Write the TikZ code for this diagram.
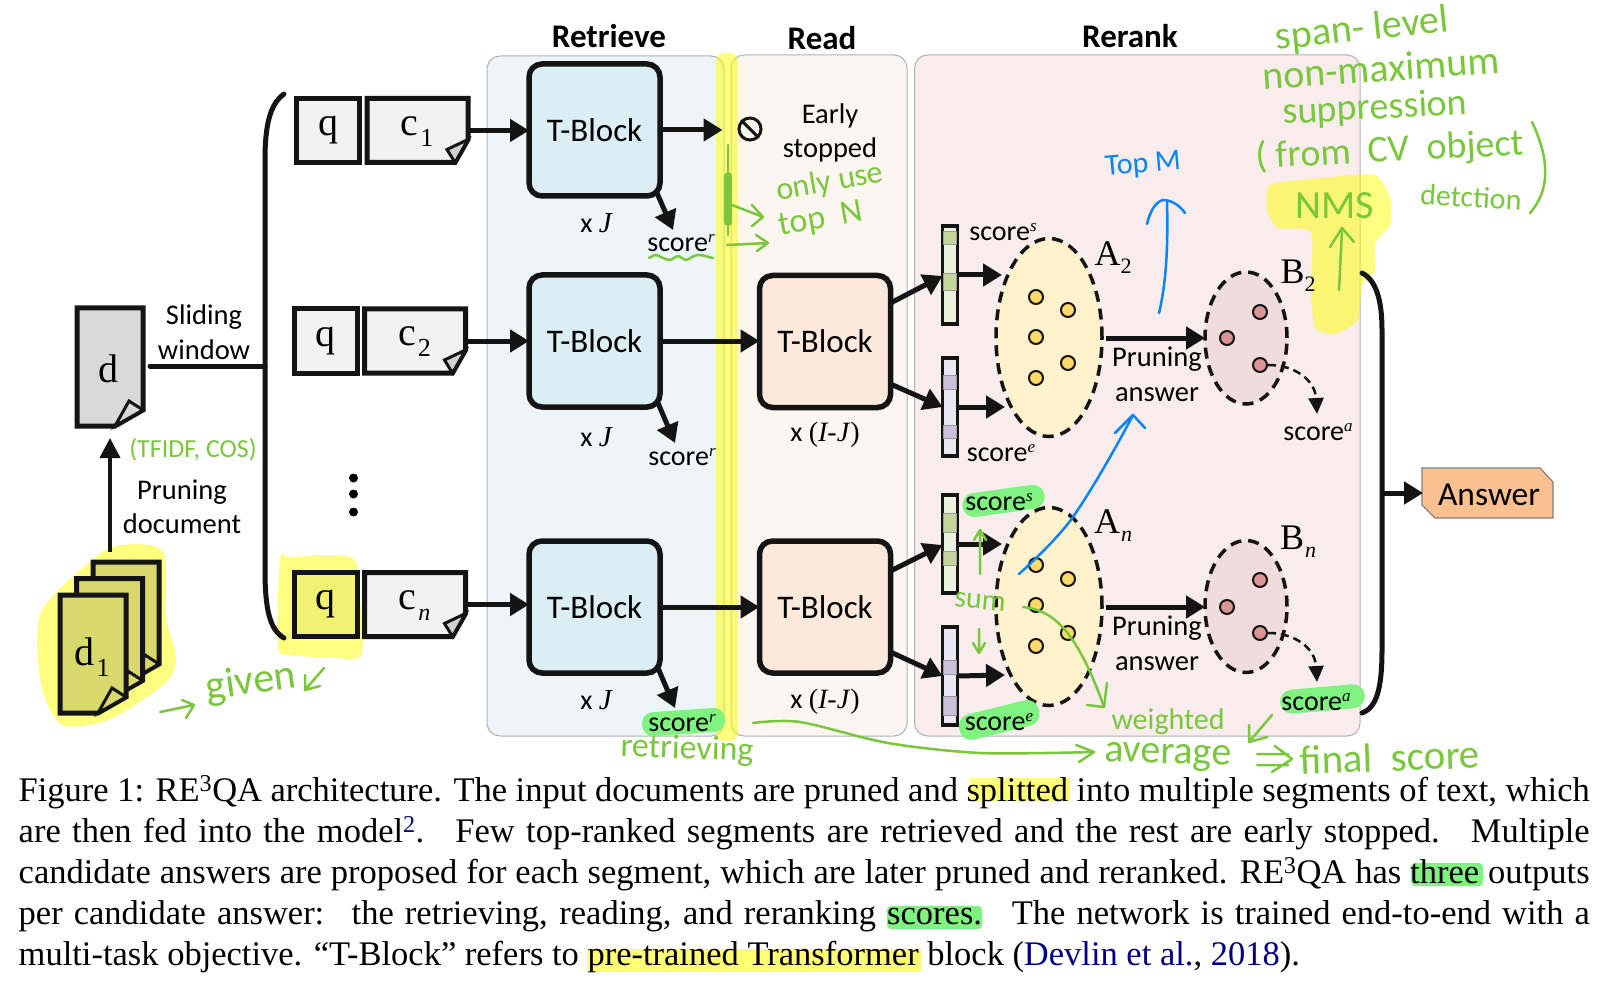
\documentclass[tikz,border=0pt]{standalone}
\usepackage{fontspec}
\setmainfont{Liberation Serif}
\newfontfamily\crl{Carlito}
\newfontfamily\tms{Liberation Serif}
\newfontfamily\hand{Carlito}
\usetikzlibrary{arrows.meta,shapes.geometric,calc}
\definecolor{gr}{HTML}{7AC63C}
\definecolor{bl}{HTML}{0A84F5}
\definecolor{hy}{HTML}{FFFF00}
\definecolor{hg}{HTML}{7FF27F}
\definecolor{navy}{HTML}{000080}
\definecolor{CBblue}{HTML}{DAEEF3}
\definecolor{CBread}{HTML}{FCE9DB}
\definecolor{CBolive}{HTML}{D8D86C}
\definecolor{CBqy}{HTML}{F1F172}
\definecolor{Pbl}{HTML}{EDF5F8}
\definecolor{Prd}{HTML}{FDF5F0}
\definecolor{Fp}{HTML}{F8ECEC}
\definecolor{gB}{HTML}{EAF1DE}
\definecolor{pB}{HTML}{E9E8F2}
\definecolor{gC}{HTML}{C3D69B}
\definecolor{pC}{HTML}{CCC1DA}
\definecolor{yA}{HTML}{FFF2CC}
\definecolor{rA}{HTML}{F0DCDB}
\definecolor{yD}{HTML}{FFD966}
\definecolor{rD}{HTML}{D99694}
\definecolor{AnsC}{HTML}{FAC090}
\newcommand{\fs}[1]{\fontsize{#1}{#1}\selectfont}
\newcommand{\scr}[1]{{\crl\fs{28}score\raisebox{9pt}{\tms\itshape\fs{17}#1}}}
\newcommand{\lab}[2]{{\tms\fs{40}#1\kern2pt\raisebox{-11pt}{\fs{26}#2}}}
\newcommand{\labn}[1]{{\tms\fs{40}#1\kern2pt\raisebox{-11pt}{\itshape\fs{24}n}}}
\newcommand{\labb}[2]{{\tms\fs{36}#1\raisebox{-8pt}{\fs{22}#2}}}
\newcommand{\labm}[1]{{\tms\fs{36}#1\kern1pt\raisebox{-8pt}{\itshape\fs{22}n}}}
\newcommand{\xJ}[1]{{\crl\fs{28}x }{\tms\itshape\fs{29}#1}}
\tikzset{
 x=1pt,y=-1pt,
 panel/.style={draw=black!30,line width=1pt,rounded corners=13pt},
 ttl/.style={font=\crl\bfseries\fs{33},inner sep=0pt},
 lbl/.style={font=\crl\fs{28.5},inner sep=0pt,align=center},
 tnode/.style={inner sep=0pt},
 tblock/.style={draw=black!92,line width=5.5pt,rounded corners=13pt,minimum width=131pt,minimum height=132pt,inner sep=0pt,font=\crl\fs{33},outer sep=0pt},
 blue block/.style={tblock,fill=CBblue},
 read block/.style={tblock,fill=CBread},
 qbox/.style={draw=black!92,fill=black!5,line width=5pt,minimum width=63pt,minimum height=64pt,inner sep=0pt,outer sep=0pt,font=\tms\fs{40}},
 docline/.style={draw=black!92,line width=5pt,line join=miter},
 arr/.style={line width=5pt,draw=black!92,-{Triangle[length=19pt,width=22pt]}},
 darr/.style={line width=2.5pt,draw=black!92,dash pattern=on 8pt off 5pt,-{Triangle[length=16pt,width=15pt]}},
 barbox/.style={draw=black!92,line width=3.5pt,minimum width=15pt,minimum height=98pt,inner sep=0pt,outer sep=0pt},
 ell/.style={ellipse,draw=black!92,line width=3.5pt,dash pattern=on 11pt off 7pt,inner sep=0pt,outer sep=0pt},
 dotn/.style={circle,draw=black!92,line width=2pt,minimum size=14pt,inner sep=0pt},
 hl/.style={fill=hy,opacity=.5,draw=none},
 hlg/.style={fill=hg,draw=none},
 hw/.style={font=\hand\fs{38},text=gr,inner sep=0pt},
 gline/.style={draw=gr,line width=2.5pt,line cap=round,line join=round},
 bline/.style={draw=bl,line width=2.5pt,line cap=round,line join=round},
 capline/.style={font=\tms\fs{34.5},inner sep=0pt,anchor=base west},
}
\newcommand{\cdoc}[4]{% name, left x, centre y, label
 \fill[black!5] (#2,#3-32) -- (#2+101,#3-32) -- (#2+101,#3+9) -- (#2+88,#3+32) -- (#2,#3+32) -- cycle;
 \draw[docline] (#2,#3-32) -- (#2+101,#3-32) -- (#2+101,#3+9) -- (#2+88,#3+32) -- (#2,#3+32) -- cycle;
 \draw[line width=3pt,draw=black!92,fill=black!18,line join=miter] (#2+101,#3+9) -- (#2+80,#3+19) -- (#2+88,#3+32) -- cycle;
 \node[minimum width=101pt,minimum height=64pt,inner sep=0pt,outer sep=0pt] (#1) at (#2+50.5,#3) {};
 \node[tnode] (#1t) at (#2+50,#3+1) {#4};
}
\newcommand{\sheet}[4]{% left, top, fill, fold
 \draw[docline,fill=#3] (#1,#2) -- (#1+66,#2) -- (#1+66,#2+102) -- (#1+38,#2+118) -- (#1,#2+118) -- cycle;
 \draw[line width=3pt,draw=black!92,fill=#4,line join=miter] (#1+66,#2+102) -- (#1+52,#2+93) -- (#1+38,#2+118) -- cycle;
}
\begin{document}
\begin{tikzpicture}
\useasboundingbox (0,0) rectangle (1609,1000);
\fill[white] (0,0) rectangle (1609,1000);
% panels
\draw[panel,fill=Pbl] (487,56) rectangle (724,736);
\draw[panel,fill=Prd] (731,55) rectangle (907,736);
\draw[panel,fill=Fp] (914.5,55) rectangle (1360,736);
\node[ttl] (tRetrieve) at (609,36) {Retrieve};
\node[ttl] (tRead) at (822,38) {Read};
\node[ttl] (tRerank) at (1130,36) {Rerank};
% highlights
\fill[hl,rounded corners=8pt] (716,53) rectangle (738,741);
\fill[hl] plot[smooth cycle,tension=.5] coordinates {(122,545) (163,552) (166,617) (176,657) (168,680) (135,705) (102,722) (61,724) (41,683) (41,613) (92,560)};
\fill[hl] plot[smooth cycle,tension=.5] coordinates {(280,560) (291,557) (352,558) (360,600) (361,655) (330,657) (290,655) (278,645)};
\fill[hl] plot[smooth cycle,tension=.35] coordinates {(1270,185) (1320,178) (1375,175) (1391,200) (1390,225) (1375,243) (1375,270) (1362,285) (1358,320) (1335,334) (1315,328) (1311,290) (1311,232) (1278,228) (1267,210)};
% left docs
\sheet{93}{562}{CBolive}{CBolive}
\sheet{76.5}{578.5}{CBolive}{CBolive}
\sheet{60}{595}{CBolive}{CBolive}
\node[tnode] (d1) at (92,657) {\lab{d}{1}};
\sheet{77}{308}{black!15}{black!15}
\node[minimum width=66pt,minimum height=118pt,inner sep=0pt,outer sep=0pt] (dbox) at (110,367) {};
\node[tnode] (dt) at (108,369) {\tms\fs{40}d};
\node[lbl] (sw) at (204,332) {Sliding\\[6pt]window};
\node[lbl] (pd) at (182,507) {Pruning\\[6pt]document};
\coordinate (stackTop) at (110,552);
\draw[line width=4pt,draw=black!92,-{Triangle[length=20pt,width=20pt]}] (stackTop) -- ($(dbox.south -| stackTop)+(0,12)$);
% bracket
\coordinate (brL) at (265,366);
\draw[line width=5pt,draw=black!92,line cap=round] (284,94) .. controls (270,104) and (265,125) .. (265,160) -- (265,570) .. controls (265,610) and (270,630) .. (284,638);
\draw[line width=5pt,draw=black!92,line cap=round] ([xshift=7pt]dbox.east |- brL) -- (brL);
% query/context
\node[qbox] (q1) at (328,130.5) {q};
\cdoc{c1}{367}{130.5}{\lab{c}{1}}
\node[qbox] (q2) at (325.5,341) {q};
\cdoc{c2}{364.5}{341}{\lab{c}{2}}
\node[qbox,fill=CBqy] (qn) at (325.5,604.5) {q};
\cdoc{cn}{364.5}{604.5}{\labn{c}}
\fill (353.5,478) circle (4.5) (353.5,494) circle (4.5) (353.5,512) circle (4.5);
% T-blocks
\node[blue block] (tb1) at (594.5,130) {T-Block};
\node[blue block] (tb2) at (594.5,341) {T-Block};
\node[blue block] (tb3) at (594.5,607) {T-Block};
\node[read block] (rb2) at (825,341.5) {T-Block};
\node[read block] (rb3) at (825,607) {T-Block};
\draw[arr] (c1.east) -- (c1.east -| tb1.west);
\draw[arr] (c2.east) -- (c2.east -| tb2.west);
\draw[arr] (cn.east) -- (cn.east -| tb3.west);
\draw[arr] (tb2.east) -- (tb2.east -| rb2.west);
\draw[arr] (tb3.east) -- (rb3.west);
% stop
\node[circle,draw=black!92,line width=3pt,minimum size=22pt,inner sep=0pt] (stop) at (750,129) {};
\draw[line width=3pt,draw=black!92] (stop.135) -- (stop.-45);
\draw[arr] (tb1.east) -- ($(stop.west |- tb1.east)+(-15,0)$);
\node[lbl] (early) at (830,133) {Early\\[6pt]stopped};
% scores of retrieve
\node[tnode] (sr1) at (681,243) {\scr{r}};
\node[tnode] (sr2) at (682,457) {\scr{r}};
\fill[hlg,rotate around={4:(684,722)}] (642,710) [rounded corners=11pt] rectangle (725,734);
\node[tnode] (sr3) at (682,723) {\scr{r}};
\coordinate (sr1a) at (657,193); \coordinate (sr2a) at (658,403); \coordinate (sr3a) at (658,668);
\coordinate (sr1t) at (673,230); \coordinate (sr2t) at (675,443); \coordinate (sr3t) at (675,708);
\draw[arr] (sr1a) -- (sr1t);
\draw[arr] (sr2a) -- (sr2t);
\draw[arr] (sr3a) -- (sr3t);
\node[tnode] (xj1) at (596,223) {\xJ{J}};
\node[tnode] (xj2) at (596,437) {\xJ{J}};
\node[tnode] (xj3) at (596,700) {\xJ{J}};
\node[tnode] (xr2) at (825,435) {{\crl\fs{28}x }{\tms\fs{28}(\textit{I-J})}};
\node[tnode] (xr3) at (825,702) {{\crl\fs{28}x }{\tms\fs{28}(\textit{I-J})}};
% rerank
\node[barbox,fill=gB] (b2s) at (950,275) {};
\node[barbox,fill=pB] (b2e) at (950,407) {};
\node[barbox,fill=gB] (bns) at (950,544) {};
\node[barbox,fill=pB] (bne) at (950,676) {};
\foreach \ya/\yb in {231/244,273/290,513/532,551/565}{\filldraw[fill=gC,draw=black!40,line width=.8pt] (943.5,\ya) rectangle (956.5,\yb);}
\foreach \ya/\yb in {375/389,425/438,660/674,696/715}{\filldraw[fill=pC,draw=black!40,line width=.8pt] (943.5,\ya) rectangle (956.5,\yb);}
\node[ell,fill=yA,minimum width=106pt,minimum height=198pt] (A2) at (1049,337.5) {};
\node[ell,fill=yA,minimum width=106pt,minimum height=198pt] (An) at (1049,606.5) {};
\node[ell,fill=rA,minimum width=82pt,minimum height=132pt] (B2) at (1246,338) {};
\node[ell,fill=rA,minimum width=82pt,minimum height=132pt] (Bn) at (1246,606.5) {};
\foreach \n/\x/\y in {a1/1036/297,a2/1068/310,a3/1036/337,a4/1068/363,a5/1036/378,c1d/1036/565,c2d/1068/579,c3d/1036/605,c4d/1068/633,c5d/1036/646}
 {\node[dotn,fill=yD] (\n) at (\x,\y) {};}
\node[dotn,fill=rD] (r1) at (1260,312) {};
\node[dotn,fill=rD] (r2) at (1227,338) {};
\node[dotn,fill=rD] (r3) at (1260,365) {};
\node[dotn,fill=rD] (s1) at (1260,580) {};
\node[dotn,fill=rD] (s2) at (1227,607) {};
\node[dotn,fill=rD] (s3) at (1260,633) {};
\draw[arr] (rb2.east |- 0,303) -- (b2s.west |- 0,276);
\draw[arr] (rb2.east |- 0,384) -- (b2e.west |- 0,407);
\draw[arr] (rb3.east |- 0,571) -- (bns.west |- 0,545);
\draw[arr] (rb3.east |- 0,652) -- (bne.west |- 0,676);
\coordinate (A2s) at (1002,275); \coordinate (A2e) at (1005,407);
\coordinate (Ans) at (1002,544); \coordinate (Ane) at (1005,675);
\draw[arr] (b2s.east) -- (A2s);
\draw[arr] (b2e.east) -- (A2e);
\draw[arr] (bns.east) -- (Ans);
\draw[arr] (bne.east) -- (Ane);
\draw[arr] ([xshift=4pt]A2.east |- 0,338) -- (B2.west |- 0,338);
\draw[arr] ([xshift=4pt]An.east |- 0,607) -- (Bn.west |- 0,607);
\node[lbl] (pa2) at (1157,374.5) {Pruning\\[6pt]answer};
\node[lbl] (pan) at (1157,643.5) {Pruning\\[6pt]answer};
\coordinate (sa2t) at (1317,414); \coordinate (sant) at (1317,682);
\draw[darr] (r3.east) .. controls (1295,365) and (1315,380) .. (sa2t);
\draw[darr] (s3.east) .. controls (1295,633) and (1315,648) .. (sant);
\node[tnode] (ss2) at (1003,232) {\scr{s}};
\node[tnode] (se2) at (1001,453) {\scr{e}};
\node[tnode] (sa2) at (1318,432) {\scr{a}};
\fill[hlg,rotate around={8:(1003,501)}] (962,489) [rounded corners=12pt] rectangle (1045,513);
\node[tnode] (ssn) at (999,502) {\scr{s}};
\fill[hlg,rotate around={14:(999,719)}] (958,707) [rounded corners=12pt] rectangle (1040,733);
\node[tnode] (sen) at (999,722) {\scr{e}};
\fill[hlg,rotate around={5:(1322,699)}] (1280,687) [rounded corners=12pt] rectangle (1365,711);
\node[tnode] (san) at (1316,702) {\scr{a}};
\node[tnode] (lA2) at (1113,258) {\labb{A}{2}};
\node[tnode] (lAn) at (1113,526) {\labm{A}};
\node[tnode] (lB2) at (1298,276) {\labb{B}{2}};
\node[tnode] (lBn) at (1298,542) {\labm{B}};
% right bracket & answer
\coordinate (brR) at (1382,493);
\draw[line width=5pt,draw=black!92,line cap=round] (1362,273) .. controls (1376,280) and (1382,300) .. (1382,330) -- (1382,650) .. controls (1382,690) and (1376,708) .. (1362,713);
\draw[draw=black!50,line width=1.2pt,fill=AnsC] (1422,468) -- (1540,468) -- (1553,482) -- (1553,518) -- (1435,518) -- (1422,505) -- cycle;
\node[minimum width=131pt,minimum height=50pt,inner sep=0pt,outer sep=0pt,font=\crl\fs{33.5}] (ans) at (1489,495) {Answer};
\draw[arr] (brR) -- (brR -| 1423,0);
% green annotations
\node[hw,rotate=6,font=\hand\fs{40}] (h1) at (1362,30) {span- level};
\node[hw,rotate=4,font=\hand\fs{40}] (h2) at (1381,68) {non-maximum};
\node[hw,rotate=3] (h3) at (1375,109) {suppression};
\node[hw,rotate=3] (h4) at (1390,151) {( from\ \ CV\ \ object};
\node[hw,rotate=0,font=\hand\fs{40}] (h5) at (1335,206) {NMS};
\node[hw,rotate=-3,font=\hand\fs{30}] (h6) at (1471,197) {detction};
\draw[gline] (1532,122) .. controls (1550,160) and (1550,190) .. (1530,213);
\draw[gline] (1339,290) .. controls (1340,270) and (1341,250) .. (1342,230);
\draw[gline] (1330,247) -- (1342,228) -- (1354,242);
\node[hw,rotate=10,font=\hand\fs{32}] (h7) at (830,183) {only use};
\node[hw,rotate=10,font=\hand\fs{34}] (h8) at (821,220) {top\ \ N};
\draw[gline] (728,145) -- (728,235);
\draw[gline,line width=8pt] (728,176) -- (728,222);
\draw[gline] (732,205) -- (763,217) (752,205) -- (763,217) -- (752,226);
\draw[gline] (727,245) -- (768,243) (756,235) -- (768,243) -- (757,251);
\draw[gline] plot[smooth] coordinates {(649,258) (656,255) (663,258) (670,260) (678,256) (686,260) (694,256) (700,255) (713,258)};
\node[hw,font=\hand\fs{26}] (h9) at (193,450) {(TFIDF, COS)};
\node[hw,rotate=8,font=\hand\fs{42}] (h10) at (251,683) {given};
\draw[gline] (160,712) -- (194,705) (182,700) -- (194,705) -- (186,718);
\draw[gline] (324,668) -- (305,690) (305,675) -- (305,690) -- (320,686);
\node[hw,rotate=-2,font=\hand\fs{34}] (h11) at (687,750) {retrieving};
\node[hw,rotate=-5,font=\hand\fs{30}] (h12) at (980,602) {sum};
\draw[gline] (980,574) -- (980,530) (974,540) -- (980,530) -- (986,540);
\draw[gline] (979,629) -- (979,653) (973,643) -- (979,653) -- (985,643);
\draw[gline] (1023,607) .. controls (1050,610) and (1075,625) .. (1104,707);
\draw[gline] (1087,705) -- (1104,707) -- (1107,683);
\node[hw,font=\hand\fs{30}] (h13) at (1168,722) {weighted};
\node[hw,rotate=-2,font=\hand\fs{40}] (h14) at (1168,757) {average};
\draw[gline] plot[smooth] coordinates {(753,723) (800,722) (888,743) (981,753) (1094,752)};
\draw[gline] (1076,745) -- (1094,752) -- (1079,762);
\draw[gline] (1257,754) -- (1288,754) (1257,765) -- (1288,765) (1275,746) -- (1292,759) -- (1272,772);
\node[hw,rotate=2,font=\hand\fs{41}] (h15) at (1390,757) {final\ \ score};
\draw[gline] (1272,715) -- (1249,742) (1249,725) -- (1249,742) -- (1267,737);
% blue annotations
\node[hw,text=bl,rotate=5,font=\hand\fs{30}] (b1) at (1143,165) {Top\ M};
\draw[bline] (1159,313) .. controls (1167,280) and (1168,240) .. (1167,201);
\draw[bline] (1147,224) .. controls (1150,212) and (1155,202) .. (1163,200) .. controls (1172,200) and (1180,206) .. (1185,213);
\draw[bline] (1019,574) .. controls (1040,555) and (1060,535) .. (1073,517) .. controls (1095,485) and (1120,440) .. (1133,415);
\draw[bline] (1115,433) -- (1133,415) -- (1145,428);
% caption
\fill[hy!55] (970,778) rectangle (1070,801);
\fill[hg] (1411,863) [rounded corners=4pt] rectangle (1483,886);
\fill[hg] (887,906) [rounded corners=4pt] rectangle (982,929);
\fill[hy!55] (587,949) rectangle (921,972);
\node[capline] (c1l) at (18.5,801) {\hbox to 1571pt{Figure 1: RE\textsuperscript{3}QA architecture. The input documents are pruned and splitted into multiple segments of text, which}};
\node[capline] (c2l) at (18.5,842) {\hbox to 1571pt{are then fed into the model\textsuperscript{\textcolor{navy}{2}}. \ Few top-ranked segments are retrieved and the rest are early stopped. \ Multiple}};
\node[capline] (c3l) at (18.5,883) {\hbox to 1571pt{candidate answers are proposed for each segment, which are later pruned and reranked. RE\textsuperscript{3}QA has three outputs}};
\node[capline] (c4l) at (18.5,924) {\hbox to 1571pt{per candidate answer: \ the retrieving, reading, and reranking scores. \ The network is trained end-to-end with a}};
\node[capline] (c5l) at (18.5,965) {multi-task objective. “T-Block” refers to pre-trained Transformer block (\textcolor{navy}{Devlin et al.}, \textcolor{navy}{2018}).};
\end{tikzpicture}
\end{document}
